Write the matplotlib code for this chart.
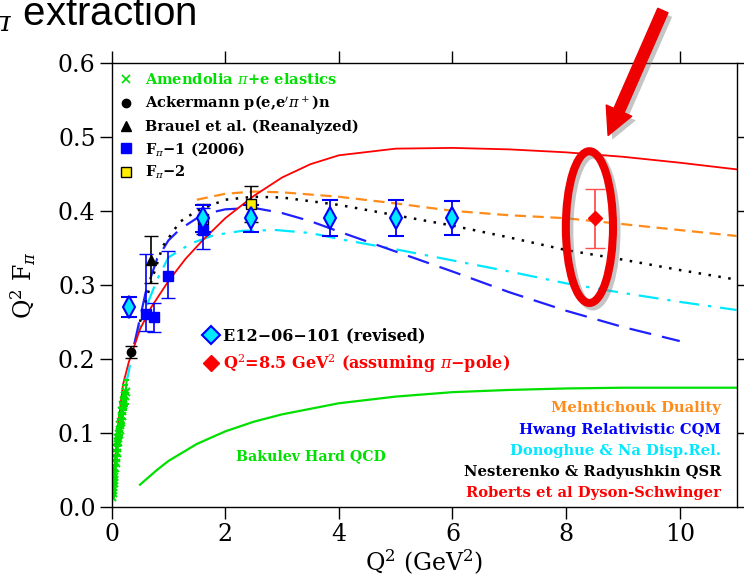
import numpy as np
import matplotlib.pyplot as plt
from matplotlib.lines import Line2D
from matplotlib.patches import Ellipse, FancyArrowPatch
import matplotlib.patheffects as pe

plt.rcParams['font.family'] = 'DejaVu Serif'
plt.rcParams['mathtext.fontset'] = 'dejavuserif'

# ---- theory curves (Q^2 in GeV^2, Q^2 F_pi) ----
roberts_x = [0.0, 0.1, 0.2, 0.3, 0.5, 0.7, 1.0, 1.3, 1.6, 2.0, 2.5, 3.0, 3.5, 4.0, 5.0, 6.0, 7.0, 8.0, 9.0, 10.0, 11.0]
roberts_y = [0.0, 0.10, 0.165, 0.195, 0.24, 0.27, 0.305, 0.335, 0.36, 0.39, 0.42, 0.445, 0.463, 0.475, 0.484, 0.485, 0.483, 0.479, 0.473, 0.465, 0.456]

meln_x = [1.5, 2.0, 2.5, 3.0, 4.0, 5.0, 6.0, 7.0, 8.0, 9.0, 10.0, 11.0]
meln_y = [0.415, 0.423, 0.426, 0.425, 0.419, 0.410, 0.400, 0.394, 0.390, 0.382, 0.374, 0.366]

nest_x = [0.5, 0.7, 0.9, 1.2, 1.5, 2.0, 2.5, 3.0, 4.0, 5.0, 6.0, 7.0, 8.0, 9.0, 10.0, 11.0]
nest_y = [0.25, 0.305, 0.352, 0.385, 0.400, 0.415, 0.419, 0.418, 0.408, 0.394, 0.380, 0.364, 0.347, 0.334, 0.320, 0.307]

hwang_x = [0.4, 0.6, 0.8, 1.0, 1.2, 1.6, 2.0, 2.5, 3.0, 3.5, 4.0, 5.0, 6.0, 7.0, 8.0, 9.0, 10.0]
hwang_y = [0.22, 0.29, 0.335, 0.36, 0.375, 0.395, 0.402, 0.404, 0.397, 0.386, 0.372, 0.345, 0.318, 0.29, 0.265, 0.243, 0.224]

donog_x = [0.0, 0.05, 0.1, 0.2, 0.4, 0.6, 0.8, 1.0, 1.4, 1.8, 2.3, 2.9, 3.5, 4.0, 5.0, 6.0, 7.0, 8.0, 9.0, 10.0, 11.0]
donog_y = [0.0, 0.046, 0.085, 0.145, 0.22, 0.268, 0.307, 0.337, 0.356, 0.367, 0.373, 0.374, 0.370, 0.362, 0.348, 0.333, 0.318, 0.302, 0.289, 0.277, 0.266]

bakulev_x = [0.5, 0.8, 1.0, 1.5, 2.0, 2.5, 3.0, 4.0, 5.0, 6.0, 7.0, 8.0, 9.0, 10.0, 11.0]
bakulev_y = [0.03, 0.05, 0.062, 0.085, 0.102, 0.115, 0.125, 0.14, 0.149, 0.155, 0.158, 0.16, 0.161, 0.161, 0.161]

# ---- data ----
amend_q2 = [0.015, 0.020, 0.025, 0.030, 0.035, 0.040, 0.045, 0.050, 0.060, 0.070, 0.080, 0.090, 0.100,
            0.110, 0.120, 0.130, 0.140, 0.150, 0.160, 0.175, 0.190, 0.205, 0.220, 0.235, 0.250]
amend_val = [0.014, 0.019, 0.023, 0.027, 0.032, 0.036, 0.040, 0.044, 0.052, 0.059, 0.066, 0.073, 0.080,
             0.087, 0.093, 0.099, 0.104, 0.110, 0.115, 0.123, 0.130, 0.137, 0.143, 0.150, 0.155]
amend_err = [0.001, 0.001, 0.001, 0.002, 0.002, 0.002, 0.002, 0.003, 0.003, 0.003, 0.004, 0.004, 0.005,
             0.005, 0.006, 0.006, 0.007, 0.007, 0.008, 0.009, 0.010, 0.011, 0.012, 0.014, 0.016]

ack_q2 = [0.35]
ack_val = [0.209]
ack_err = [0.008]

brauel_q2 = [0.70]
brauel_val = [0.334]
brauel_err = [0.032]

fpi1_q2 = [0.60, 0.75, 1.00, 1.60]
fpi1_val = [0.260, 0.256, 0.312, 0.374]
fpi1_lo = [0.022, 0.020, 0.030, 0.025]
fpi1_hi = [0.082, 0.020, 0.034, 0.030]

fpi2_q2 = [1.60, 2.45]
fpi2_val = [0.389, 0.409]
fpi2_err = [0.020, 0.024]

e12_q2 = [0.30, 1.60, 2.45, 3.85, 5.00, 6.00]
e12_val = [0.270, 0.390, 0.390, 0.390, 0.390, 0.390]
e12_err = [0.013, 0.018, 0.018, 0.024, 0.024, 0.023]

pole_q2 = [8.5]
pole_val = [0.39]
pole_err = [0.04]

GREEN = '#00e000'
ORANGE = '#ff8c1a'
BLUE = '#0000ff'
CYAN = '#00e8ff'
RED = '#ff0000'

fig = plt.figure(figsize=(7.44, 5.76), dpi=100)
ax = fig.add_axes([0.150, 0.120, 0.840, 0.771])

ax.plot(bakulev_x, bakulev_y, color=GREEN, lw=1.6)
ax.plot(donog_x, donog_y, color=CYAN, lw=1.6, dashes=(9, 4, 1.5, 4))
ax.plot(hwang_x, hwang_y, color='#2020ff', lw=1.6, dashes=(10, 5))
ax.plot(nest_x, nest_y, color='black', lw=1.8, dashes=(1, 3))
ax.plot(meln_x, meln_y, color=ORANGE, lw=1.6, dashes=(5, 3))
ax.plot(roberts_x, roberts_y, color=RED, lw=1.3)

ax.errorbar(amend_q2, amend_val, yerr=amend_err, fmt='x', color=GREEN, ms=6, mew=1.4,
            elinewidth=1, capsize=2)
ax.errorbar(ack_q2, ack_val, yerr=ack_err, fmt='o', color='black', ms=6, capsize=4, elinewidth=1.2)
ax.errorbar(brauel_q2, brauel_val, yerr=brauel_err, fmt='^', color='black', ms=7, capsize=5,
            elinewidth=1.2)
ax.errorbar(fpi1_q2, fpi1_val, yerr=[fpi1_lo, fpi1_hi], fmt='s', color=BLUE, ms=7, capsize=5,
            elinewidth=1.2)
ax.errorbar(fpi2_q2, fpi2_val, yerr=fpi2_err, fmt='s', mfc='#ffee00', mec='black', ecolor='black',
            ms=7, capsize=5, elinewidth=1.2)
ax.errorbar(e12_q2, e12_val, yerr=e12_err, fmt='d', mfc=CYAN, mec=BLUE, ecolor=BLUE, ms=11,
            mew=1.5, capsize=6, elinewidth=1.3)
ax.errorbar(pole_q2, pole_val, yerr=pole_err, fmt='D', color=RED, ecolor='#ff5050', ms=7,
            capsize=7, elinewidth=1.3)

ax.set_xlim(0, 11)
ax.set_ylim(0, 0.6)
ax.set_xticks([0, 2, 4, 6, 8, 10])
ax.set_yticks([0.0, 0.1, 0.2, 0.3, 0.4, 0.5, 0.6])
ax.set_yticklabels(['0.0', '0.1', '0.2', '0.3', '0.4', '0.5', '0.6'])
ax.tick_params(direction='out', length=8.5, width=1, labelsize=17, pad=3,
               top=True, right=True)
for s in ax.spines.values():
    s.set_linewidth(1.0)
ax.set_xlabel('Q$^2$ (GeV$^2$)', fontsize=17, labelpad=1)
ax.set_ylabel('Q$^2$ F$_\\pi$', fontsize=17, labelpad=14)

# ---- legends ----
h1 = [Line2D([], [], ls='', marker='x', color=GREEN, ms=6, mew=1.2),
      Line2D([], [], ls='', marker='o', color='black', ms=6),
      Line2D([], [], ls='', marker='^', color='black', ms=7),
      Line2D([], [], ls='', marker='s', color=BLUE, ms=7),
      Line2D([], [], ls='', marker='s', mfc='#ffee00', mec='black', ms=7)]
l1 = ['Amendolia $\\pi$+e elastics', "Ackermann p(e,e$'\\pi^+$)n", 'Brauel et al. (Reanalyzed)',
      'F$_\\pi$−1 (2006)', 'F$_\\pi$−2']
leg1 = ax.legend(h1, l1, loc='upper left', bbox_to_anchor=(-0.002, 0.998), frameon=False,
                 prop={'size': 10.5, 'weight': 'bold'}, handlelength=1.0, handletextpad=0.75,
                 labelspacing=0.42, borderaxespad=0.2)
leg1.get_texts()[0].set_color(GREEN)
ax.add_artist(leg1)

h2 = [Line2D([], [], ls='', marker='D', mfc=CYAN, mec=BLUE, ms=9, mew=1.5),
      Line2D([], [], ls='', marker='D', color=RED, ms=8)]
l2 = ['E12−06−101 (revised)', 'Q$^2$=8.5 GeV$^2$ (assuming $\\pi$−pole)']
leg2 = ax.legend(h2, l2, loc='upper left', bbox_to_anchor=(0.138, 0.418), frameon=False,
                 prop={'size': 11.5, 'weight': 'bold'}, handlelength=0.8, handletextpad=0.4,
                 labelspacing=0.45, borderaxespad=0.0)
leg2.get_texts()[1].set_color(RED)

model_names = ['Melntichouk Duality', 'Hwang Relativistic CQM', 'Donoghue & Na Disp.Rel.',
               'Nesterenko & Radyushkin QSR', 'Roberts et al Dyson-Schwinger']
model_colors = [ORANGE, BLUE, CYAN, 'black', RED]
for i, (name, c) in enumerate(zip(model_names, model_colors)):
    ax.text(0.975, 0.222 - i * 0.0478, name, transform=ax.transAxes, ha='right', va='center',
            color=c, fontsize=10.6, fontweight='bold')

ax.text(0.319, 0.115, 'Bakulev Hard QCD', transform=ax.transAxes, ha='center', va='center',
        color=GREEN, fontsize=10.2, fontweight='bold')

# ---- highlight annotation ----
ell = Ellipse((8.41, 0.378), 0.83, 0.205, fill=False, edgecolor='#ee0000', lw=5.8,
              clip_on=False, zorder=10)
ell.set_path_effects([pe.SimpleLineShadow(offset=(2.5, -2.5), shadow_color='gray', alpha=0.45),
                      pe.Normal()])
ax.add_patch(ell)

arrow = FancyArrowPatch((664 / 744, 1 - 8 / 576), (607 / 744, 1 - 138 / 576),
                        transform=fig.transFigure, color='#ee0000',
                        arrowstyle='simple,head_length=1.95,head_width=2.0,tail_width=0.8',
                        mutation_scale=10, zorder=10)
arrow.set_path_effects([pe.SimplePatchShadow(offset=(3, -3), shadow_rgbFace='gray', alpha=0.45),
                        pe.Normal()])
fig.patches.append(arrow)

# title is partly off the left edge, as in the original slide crop
fig.text(-0.045, 1 - 25 / 576, 'F$_\\pi$ extraction', fontsize=29, family='Liberation Sans',
         va='baseline', ha='left')

fig.savefig('out.png', dpi=100)
